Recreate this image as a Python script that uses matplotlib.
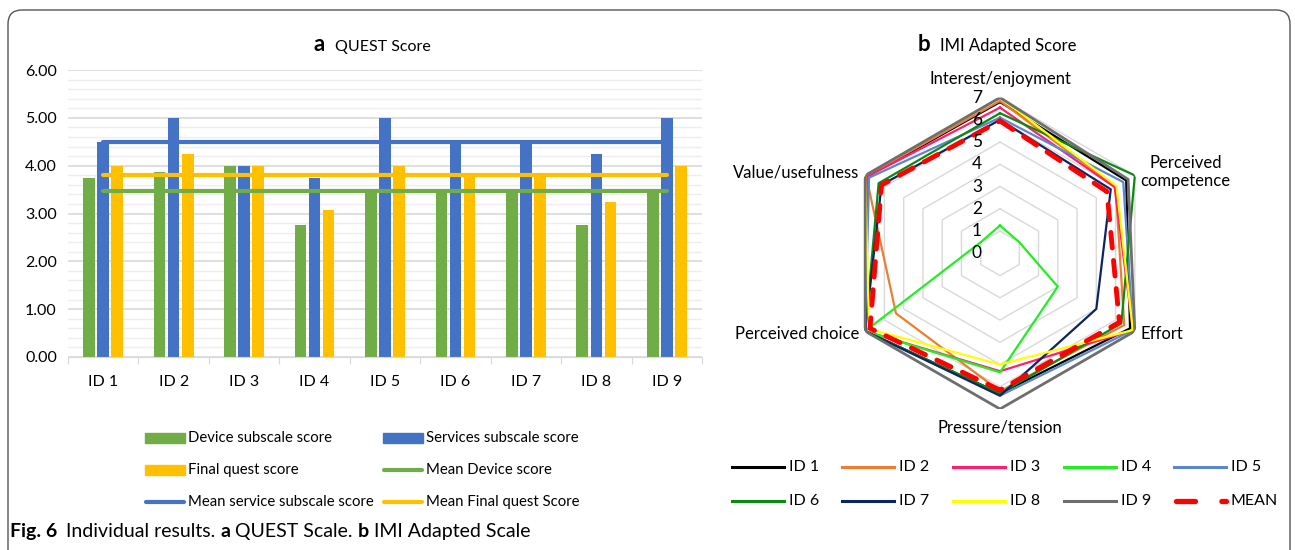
import matplotlib
matplotlib.use('Agg')
import matplotlib.pyplot as plt
import numpy as np
from matplotlib.patches import Rectangle, FancyBboxPatch
from matplotlib.lines import Line2D
from matplotlib.transforms import IdentityTransform, offset_copy

# ---------------- data ----------------
participants = ["ID 1", "ID 2", "ID 3", "ID 4", "ID 5", "ID 6", "ID 7", "ID 8", "ID 9"]
device_score = [3.75, 3.875, 4.0, 2.75, 3.5, 3.5, 3.5, 2.75, 3.5]
services_score = [4.5, 5.0, 4.0, 3.75, 5.0, 4.5, 4.5, 4.25, 5.0]
final_score = [4.0, 4.25, 4.0, 3.08, 4.0, 3.83, 3.83, 3.25, 4.0]
mean_device = 3.46
mean_services = 4.5
mean_final = 3.80
bar_yticks = [0, 1, 2, 3, 4, 5, 6]

imi_categories = ["Interest/enjoyment", "Perceived\ncompetence", "Effort",
                  "Pressure/tension", "Perceived choice", "Value/usefulness"]
imi_id1 = [6.8, 6.55, 6.75, 6.3, 7.0, 6.9]
imi_id2 = [6.85, 6.0, 6.45, 6.2, 5.4, 6.95]
imi_id3 = [6.55, 5.95, 6.9, 5.3, 7.0, 6.9]
imi_id4 = [1.25, 1.0, 3.0, 5.35, 7.0, 1.0]
imi_id5 = [6.1, 6.4, 6.9, 6.4, 7.0, 6.8]
imi_id6 = [6.3, 7.0, 6.3, 6.3, 7.0, 6.3]
imi_id7 = [6.0, 5.75, 5.0, 6.4, 7.0, 6.15]
imi_id8 = [7.0, 6.05, 6.9, 5.0, 6.8, 7.0]
imi_id9 = [7.0, 6.65, 7.0, 7.0, 7.0, 7.0]
imi_mean = [5.95, 5.55, 6.2, 6.15, 6.75, 6.15]
imi_levels = [0, 1, 2, 3, 4, 5, 6, 7]

# ---------------- style ----------------
plt.rcParams['font.family'] = ['Lato', 'DejaVu Sans']
W, H = 1295, 550
fig = plt.figure(figsize=(W / 100, H / 100), dpi=100)
fig.patch.set_facecolor('white')


def fx(x):
    return x / W


def fy(y):
    return 1 - y / H


# rounded frame (bottom edge is off-canvas)
frame = FancyBboxPatch((8, -30), 1282, 570, boxstyle="round,pad=0,rounding_size=14",
                       transform=IdentityTransform(), fill=False, ec='#555555', lw=1.0)
fig.add_artist(frame)

C_DEV, C_SRV, C_FIN = '#70AD47', '#4472C4', '#FFC000'

# ---------------- panel a: bars ----------------
ax = fig.add_axes([fx(68), fy(357), fx(702) - fx(68), fy(70) - fy(357)])
xs = np.arange(len(participants))
bw = 0.165
ax.bar(xs - 0.2, device_score, width=bw, color=C_DEV, zorder=2)
ax.bar(xs, services_score, width=bw, color=C_SRV, zorder=2)
ax.bar(xs + 0.2, final_score, width=bw, color=C_FIN, zorder=2)
ax.plot([xs[0], xs[-1]], [mean_services] * 2, color=C_SRV, lw=3, zorder=3, solid_capstyle='round')
ax.plot([xs[0], xs[-1]], [mean_final] * 2, color=C_FIN, lw=3, zorder=3, solid_capstyle='round')
ax.plot([xs[0], xs[-1]], [mean_device] * 2, color=C_DEV, lw=3, zorder=3, solid_capstyle='round')
ax.set_xlim(-0.5, len(participants) - 0.5)
ax.set_ylim(0, 6)
ax.set_yticks(bar_yticks)
ax.set_yticklabels([f'{v:.2f}' for v in bar_yticks])
ax.set_yticks(np.arange(0, 6.001, 0.2), minor=True)
ax.yaxis.grid(True, which='major', color='#d9d9d9', lw=1.2)
ax.yaxis.grid(True, which='minor', color='#eeeeee', lw=1.0)
ax.xaxis.grid(False)
ax.set_axisbelow(True)
ax.tick_params(axis='y', which='both', length=0, pad=8, labelsize=11.5)
for s in ['top', 'right', 'left']:
    ax.spines[s].set_visible(False)
ax.spines['bottom'].set_color('#d9d9d9')
ax.set_xticks(np.arange(-0.5, len(participants), 1))
ax.set_xticklabels([])
ax.set_xticks(xs, minor=True)
ax.set_xticklabels(participants, minor=True)
ax.tick_params(axis='x', which='major', length=5, color='#d9d9d9')
ax.tick_params(axis='x', which='minor', length=0, pad=13, labelsize=11.5)

# ---------------- panel b: radar ----------------
cx, cy, rad = 1000, 253.3, 155.7
rax = fig.add_axes([fx(cx - rad), fy(cy + rad), 2 * rad / W, 2 * rad / H], projection='polar')
rax.set_theta_offset(np.pi / 2)
rax.set_theta_direction(-1)
rax.set_ylim(0, 7)
rax.set_xticks([])
rax.set_yticks([])
rax.grid(False)
rax.spines['polar'].set_visible(False)
rax.patch.set_alpha(0)
n = len(imi_categories)
ang = np.arange(n) * 2 * np.pi / n
angc = np.append(ang, ang[0])
for lv in imi_levels[1:]:
    rax.plot(angc, [lv] * (n + 1), color='#d9d9d9', lw=1, zorder=1)

series = [
    ("ID 1", imi_id1, 'black', 1.6),
    ("ID 2", imi_id2, '#ED7D31', 1.6),
    ("ID 3", imi_id3, '#FF1F6E', 1.6),
    ("ID 4", imi_id4, '#22EE22', 1.6),
    ("ID 5", imi_id5, '#5B86D0', 1.6),
    ("ID 6", imi_id6, '#0B8A12', 1.6),
    ("ID 7", imi_id7, '#0E2461', 1.6),
    ("ID 8", imi_id8, '#FFFF00', 1.6),
    ("ID 9", imi_id9, '#6E6E6E', 2.0),
]
for name, vals, col, lw in series:
    rax.plot(angc, list(vals) + [vals[0]], color=col, lw=lw, zorder=2)
rax.plot(angc, imi_mean + [imi_mean[0]], color='#FF0000', lw=3.5, zorder=3,
         linestyle=(0, (3.2, 2.6)), dash_capstyle='round')

# radial labels
off = offset_copy(rax.transData, fig=fig, x=-23, y=0, units='dots')
for lv in imi_levels:
    rax.text(0, lv, str(lv), transform=off, ha='center', va='center', fontsize=12.5, zorder=4)

# category labels
lab_fs = 12
rax.text(ang[0], 7.85, imi_categories[0], ha='center', va='center', fontsize=lab_fs)
rax.text(ang[1], 7.3, imi_categories[1], ha='left', va='center', fontsize=lab_fs,
         multialignment='center')
rax.text(ang[2], 7.3, imi_categories[2], ha='left', va='center', fontsize=lab_fs)
rax.text(ang[3], 7.85, imi_categories[3], ha='center', va='center', fontsize=lab_fs)
rax.text(ang[4], 7.3, imi_categories[4], ha='right', va='center', fontsize=lab_fs)
rax.text(ang[5], 7.3, imi_categories[5], ha='right', va='center', fontsize=lab_fs)

# ---------------- rich text helper ----------------
renderer = fig.canvas.get_renderer()


def rich(parts, x, y, ha='left'):
    texts, widths = [], []
    for s, wgt, fs, gap in parts:
        t = fig.text(0, fy(y), s, fontsize=fs, fontweight=wgt, va='baseline')
        texts.append(t)
        widths.append(t.get_window_extent(renderer).width + gap)
    total = sum(widths)
    cur = x - total / 2 if ha == 'center' else x
    for t, wd in zip(texts, widths):
        t.set_x(fx(cur))
        cur += wd


rich([("a", 'bold', 16, 10), ("QUEST Score", 'normal', 11.5, 0)], 372, 51, ha='center')
rich([("b", 'bold', 16, 10), ("IMI Adapted Score", 'normal', 12, 0)], 997, 51, ha='center')
rich([("Fig. 6", 'bold', 14, 9), ("Individual results.", 'normal', 14, 5),
      ("a", 'bold', 14, 5), ("QUEST Scale.", 'normal', 14, 5),
      ("b", 'bold', 14, 5), ("IMI Adapted Scale", 'normal', 14, 0)], 10, 537)

# ---------------- legend a (manual) ----------------
leg_a = [
    ("Device subscale score", 'patch', C_DEV, 145, 438),
    ("Services subscale score", 'patch', C_SRV, 383, 438),
    ("Final quest score", 'patch', C_FIN, 145, 470),
    ("Mean Device score", 'line', C_DEV, 383, 470),
    ("Mean service subscale score", 'line', C_SRV, 145, 502),
    ("Mean Final quest Score", 'line', C_FIN, 383, 502),
]
for label, kind, col, x0, y0 in leg_a:
    if kind == 'patch':
        fig.add_artist(Rectangle((fx(x0), fy(y0 + 5)), 40 / W, 10 / H, transform=fig.transFigure,
                                 color=col))
    else:
        fig.add_artist(Line2D([fx(x0 + 1), fx(x0 + 39)], [fy(y0), fy(y0)], transform=fig.transFigure,
                              color=col, lw=3, solid_capstyle='round'))
    fig.text(fx(x0 + 43), fy(y0), label, fontsize=10.7, va='center', ha='left')

# ---------------- legend b (manual) ----------------
cols_x = [732, 842, 953, 1064, 1174]
rows_y = [467, 501]
items_b = [(s[0], s[2], s[3]) for s in series]
for i, (name, col, lw) in enumerate(items_b):
    x0 = cols_x[i % 5]
    y0 = rows_y[i // 5]
    fig.add_artist(Line2D([fx(x0), fx(x0 + 52)], [fy(y0), fy(y0)], transform=fig.transFigure,
                          color=col, lw=2.2))
    fig.text(fx(x0 + 57), fy(y0), name, fontsize=11.5, va='center', ha='left')
x0, y0 = cols_x[4], rows_y[1]
fig.add_artist(Line2D([fx(x0 + 2), fx(x0 + 52)], [fy(y0), fy(y0)], transform=fig.transFigure,
                      color='#FF0000', lw=3.8, linestyle=(0, (3.6, 5.0)), dash_capstyle='round'))
fig.text(fx(x0 + 57), fy(y0), "MEAN", fontsize=11.5, va='center', ha='left')

fig.savefig('out.png', dpi=100, facecolor='white')
